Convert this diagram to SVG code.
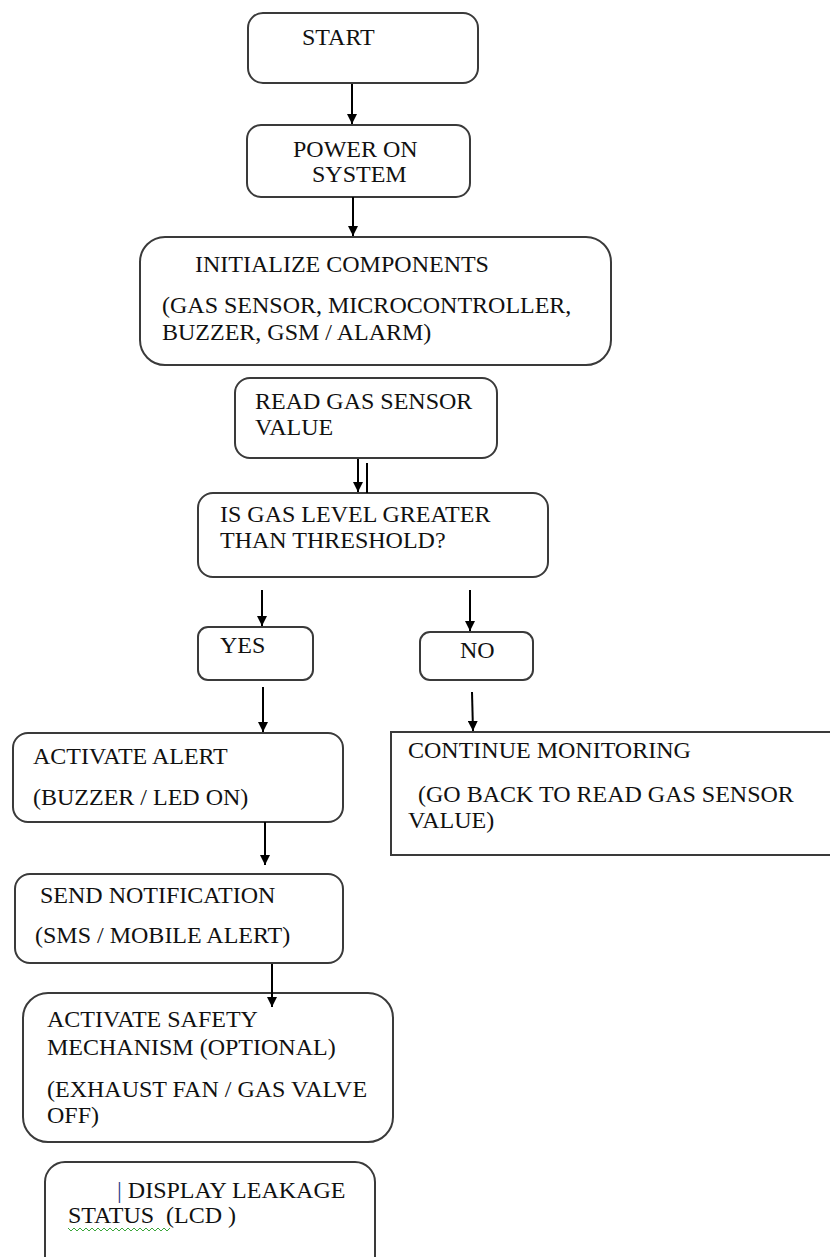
<svg xmlns="http://www.w3.org/2000/svg" width="830" height="1257" viewBox="0 0 830 1257">
<style>
.box{fill:#fff;stroke:#3a3a3a;stroke-width:2}
.t{font-family:'Liberation Serif','Times New Roman','DejaVu Serif',serif;font-size:24px;fill:#111;white-space:pre}
.c{stroke:#000;stroke-width:2;fill:none}
</style>
<defs>
<marker id="ah" viewBox="0 0 10 10" refX="10" refY="5" markerWidth="5" markerHeight="5" orient="auto" markerUnits="strokeWidth">
<path d="M0,0 L10,5 L0,10 z" fill="#000"/>
</marker>
</defs>
<rect width="830" height="1257" fill="#fff"/>
<g id="start">
<rect class="box" x="248" y="13" width="230" height="70" rx="15"/>
<text class="t" x="302" y="45">START</text>
</g>
<g id="power">
<rect class="box" x="247" y="125" width="223" height="72" rx="14"/>
<text class="t" x="293" y="157">POWER ON</text>
<text class="t" x="312" y="182">SYSTEM</text>
</g>
<g id="init">
<rect class="box" x="140" y="237" width="471" height="128" rx="25"/>
<text class="t" x="195" y="272">INITIALIZE COMPONENTS</text>
<text class="t" x="162" y="313">(GAS SENSOR, MICROCONTROLLER,</text>
<text class="t" x="162" y="340">BUZZER, GSM / ALARM)</text>
</g>
<g id="read">
<rect class="box" x="235" y="378" width="262" height="80" rx="15"/>
<text class="t" x="255" y="409">READ GAS SENSOR</text>
<text class="t" x="255" y="435">VALUE</text>
</g>
<g id="decision">
<rect class="box" x="198" y="493" width="350" height="84" rx="15"/>
<text class="t" x="220" y="522">IS GAS LEVEL GREATER</text>
<text class="t" x="220" y="548">THAN THRESHOLD?</text>
</g>
<g id="yes">
<rect class="box" x="198" y="627" width="115" height="53" rx="10"/>
<text class="t" x="220" y="653">YES</text>
</g>
<g id="no">
<rect class="box" x="420" y="632" width="113" height="48" rx="10"/>
<text class="t" x="460" y="658">NO</text>
</g>
<g id="alert">
<rect class="box" x="13" y="733" width="330" height="89" rx="15"/>
<text class="t" x="33" y="764">ACTIVATE ALERT</text>
<text class="t" x="33" y="805">(BUZZER / LED ON)</text>
</g>
<g id="continue">
<rect class="box" x="391" y="732" width="460" height="123"/>
<text class="t" x="408" y="758">CONTINUE MONITORING</text>
<text class="t" x="418" y="802">(GO BACK TO READ GAS SENSOR</text>
<text class="t" x="408" y="828">VALUE)</text>
</g>
<g id="notify">
<rect class="box" x="15" y="874" width="328" height="89" rx="15"/>
<text class="t" x="40" y="903">SEND NOTIFICATION</text>
<text class="t" x="35" y="943">(SMS / MOBILE ALERT)</text>
</g>
<g id="safety">
<rect class="box" x="23" y="993" width="370" height="149" rx="25"/>
<text class="t" x="47" y="1027">ACTIVATE SAFETY</text>
<text class="t" x="47" y="1055">MECHANISM (OPTIONAL)</text>
<text class="t" x="47" y="1097">(EXHAUST FAN / GAS VALVE</text>
<text class="t" x="47" y="1123">OFF)</text>
</g>
<g id="display">
<rect class="box" x="45" y="1162" width="330" height="120" rx="20"/>
<text class="t" x="117" y="1198"><tspan fill="#1f3c88">|</tspan> DISPLAY LEAKAGE</text>
<text class="t" x="68" y="1223">STATUS  (LCD )</text>
<path d="M68,1228 l3,3 l3,-3 l3,3 l3,-3 l3,3 l3,-3 l3,3 l3,-3 l3,3 l3,-3 l3,3 l3,-3 l3,3 l3,-3 l3,3 l3,-3 l3,3 l3,-3 l3,3 l3,-3 l3,3 l3,-3 l3,3 l3,-3 l3,3 l3,-3 l3,3 l3,-3 l3,3 l3,-3 l3,3 l3,-3 l3,3 l3,-3" fill="none" stroke="#3aa53a" stroke-width="1"/>
</g>
<g id="connectors">
<line class="c" x1="352" y1="84" x2="352" y2="124" marker-end="url(#ah)"/>
<line class="c" x1="353" y1="197" x2="353" y2="236" marker-end="url(#ah)"/>
<line class="c" x1="358" y1="459" x2="358" y2="492" marker-end="url(#ah)"/>
<line class="c" x1="367" y1="463" x2="367" y2="493"/>
<line class="c" x1="262" y1="590" x2="262" y2="626" marker-end="url(#ah)"/>
<line class="c" x1="470" y1="590" x2="470" y2="631" marker-end="url(#ah)"/>
<line class="c" x1="263" y1="687" x2="263" y2="732" marker-end="url(#ah)"/>
<line class="c" x1="472" y1="692" x2="473" y2="731" marker-end="url(#ah)"/>
<line class="c" x1="265" y1="822" x2="265" y2="865" marker-end="url(#ah)"/>
<line class="c" x1="272" y1="964" x2="272" y2="1007" marker-end="url(#ah)"/>
</g>
</svg>
